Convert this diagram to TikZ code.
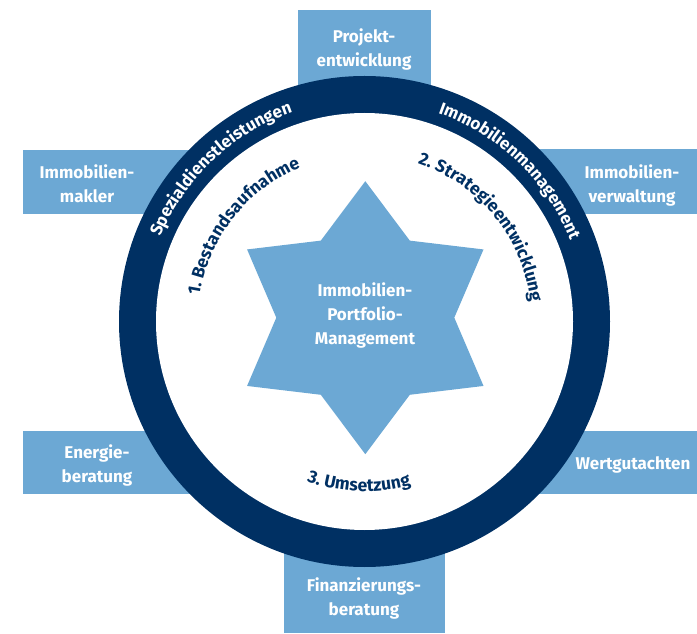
\documentclass[tikz,border=0pt]{standalone}
\usepackage{fontspec}
\setmainfont{Fira Sans}
\usetikzlibrary{decorations.text,calc}
\definecolor{navy}{HTML}{003063}
\definecolor{lblue}{HTML}{6CA8D4}
\newcommand\ringfnt{\fontsize{17}{20}\selectfont\bfseries\color{white}}
\newcommand\stepfnt{\fontsize{17.5}{20}\selectfont\bfseries\color{navy}}
\begin{document}
\begin{tikzpicture}[x=1pt,y=1pt,
  boxtxt/.style={text=white, font=\fontsize{17}{24}\selectfont\bfseries, align=center, inner sep=0},
  boxfill/.style={fill=lblue}]
\useasboundingbox (0,0) rectangle (697,633);
\coordinate (C) at (364.5,311.5);
\coordinate (S) at (365.3,315.3);
% boxes
\fill[boxfill] (298,623) rectangle (431,311.5);
\fill[boxfill] (22.7,483) rectangle (364.5,419);
\fill[boxfill] (364.5,483.5) rectangle (697,419);
\fill[boxfill] (22.7,202) rectangle (364.5,139);
\fill[boxfill] (364.5,202) rectangle (697,139);
\fill[boxfill] (284,311.5) rectangle (445,0);
% ring
\fill[navy] (C) circle[radius=245.5];
\fill[white] (C) circle[radius=208.5];
% star
\fill[lblue, shift={(S)}] (90:136.5) -- (120:89) -- (150:136.5) -- (180:89) -- (210:136.5) -- (240:89) -- (270:136.5) -- (300:89) -- (330:136.5) -- (0:89) -- (30:136.5) -- (60:89) -- cycle;
% box texts
\node[boxtxt] (projekt) at (364,583.3) {Projekt-\\entwicklung};
\node[boxtxt] (makler) at (87,449) {Immobilien-\\makler};
\node[boxtxt] (verwaltung) at (632,447.5) {Immobilien-\\verwaltung};
\node[boxtxt] (energie) at (97,168) {Energie-\\beratung};
\node[boxtxt] (wert) at (633,168) {Wertgutachten};
\node[boxtxt] (finanz) at (364,34.5) {Finanzierungs-\\beratung};
\node[boxtxt] (core) at (365,318) {Immobilien-\\Portfolio-\\Management};
% ring texts
\path[decorate, decoration={text along path, text align=center, text={|\ringfnt|Spezialdienstleistungen}}]
  ($(C)+(173.25:221)$) arc[start angle=173.25, end angle=93.25, radius=221];
\path[decorate, decoration={text along path, text align=center, text={|\ringfnt|Immobilienmanagement}}]
  ($(C)+(86:221)$) arc[start angle=86, end angle=6, radius=221];
% step texts
\path[decorate, decoration={text along path, text align=center, text={|\stepfnt|1. Bestandsaufnahme}}]
  ($(C)+(191.8:167)$) arc[start angle=191.8, end angle=91.8, radius=167];
\path[decorate, decoration={text along path, text align=center, text={|\stepfnt|2. Strategieentwicklung}}]
  ($(C)+(94:167)$) arc[start angle=94, end angle=-16, radius=167];
\path[decorate, decoration={text along path, text align=center, text={|\stepfnt|3. Umsetzung}}]
  ($(C)+(218:170)$) arc[start angle=218, end angle=318, radius=170];
\end{tikzpicture}
\end{document}
